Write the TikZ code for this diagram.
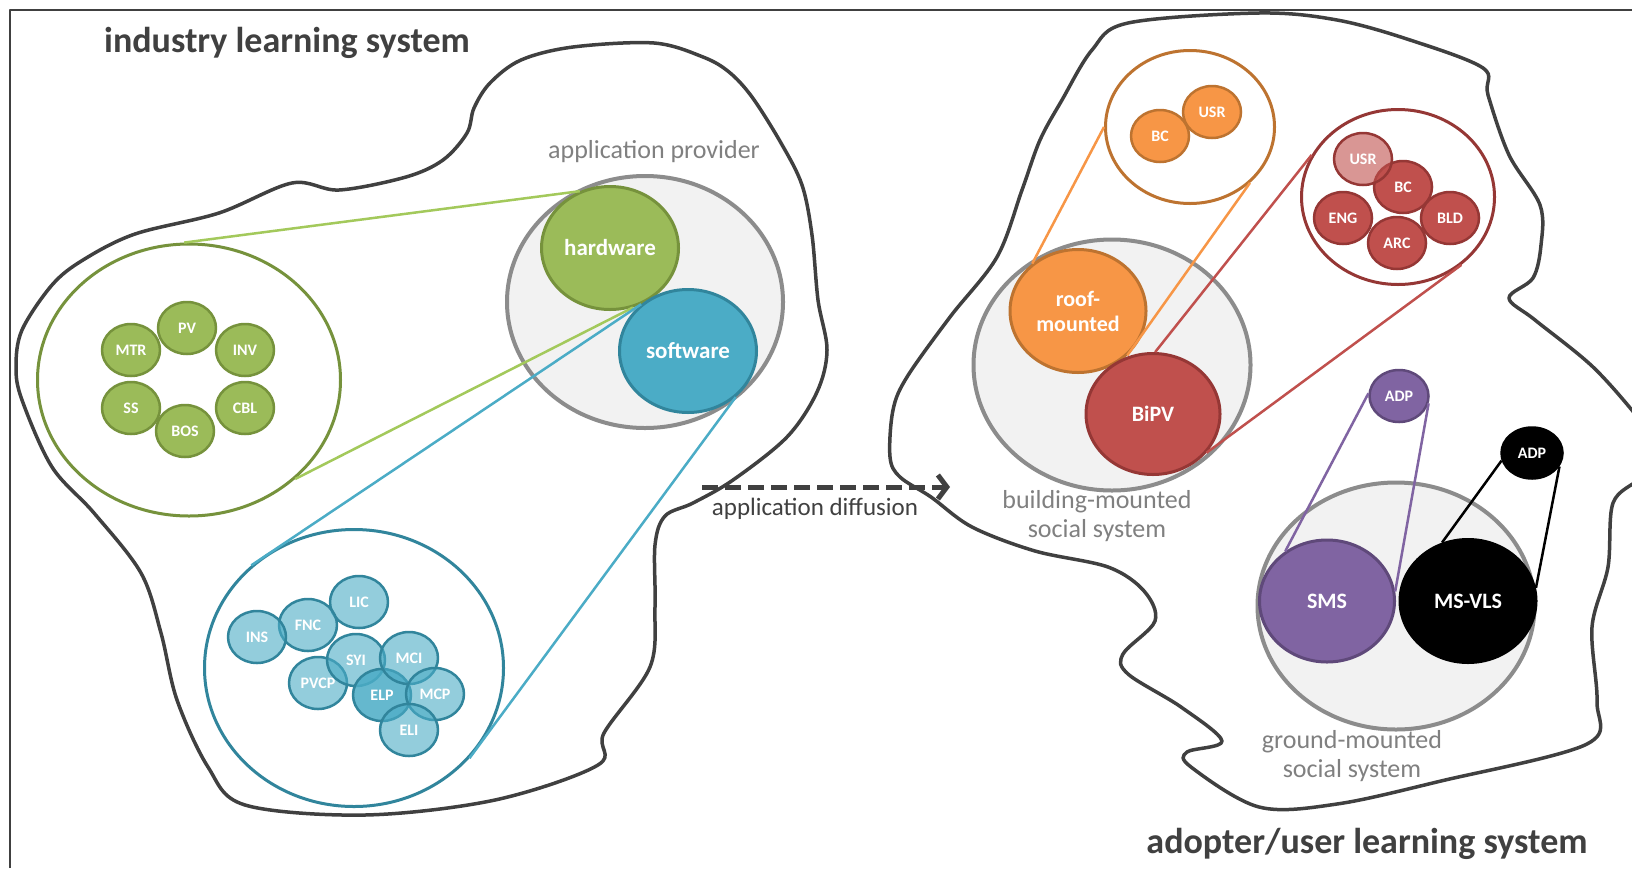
\documentclass[tikz,border=0pt]{standalone}
\usepackage{fontspec}
\setmainfont{Carlito}
\usetikzlibrary{shapes.geometric,arrows.meta}
\definecolor{grnfill}{HTML}{9BBB59}
\definecolor{grndraw}{HTML}{76923C}
\definecolor{grnlink}{HTML}{A3C95B}
\definecolor{bluefill}{HTML}{4BACC6}
\definecolor{bluedraw}{HTML}{31859C}
\definecolor{orgfill}{HTML}{F79646}
\definecolor{orgdraw}{HTML}{BD7330}
\definecolor{redfill}{HTML}{C0504D}
\definecolor{reddraw}{HTML}{953735}
\definecolor{purfill}{HTML}{8064A2}
\definecolor{purdraw}{HTML}{5F497A}
\definecolor{appfill}{HTML}{F2F2F2}
\definecolor{appdraw}{HTML}{8C8C8C}
\definecolor{ink}{HTML}{404040}
\definecolor{lbl}{HTML}{808080}
\begin{document}
\begin{tikzpicture}[x=1pt, y=-1pt, line join=round,
    sys/.style={ellipse, draw=appdraw, fill=appfill, line width=4pt, inner sep=0pt},
    grp/.style={ellipse, line width=3pt, inner sep=0pt},
    part/.style={ellipse, line width=3pt, inner sep=0pt, text=white, align=center, font=\bfseries\fontsize{22}{25}\selectfont},
    item/.style={ellipse, line width=2.5pt, inner sep=0pt, minimum width=58pt, minimum height=52pt, text=white, font=\bfseries\fontsize{16}{19}\selectfont},
    grnitem/.style={item, fill=grnfill, draw=grndraw},
    bluitem/.style={item, fill=bluefill, fill opacity=0.6, text opacity=1, draw=bluedraw},
    orgitem/.style={item, fill=orgfill, draw=orgdraw},
    reditem/.style={item, fill=redfill, draw=reddraw},
    note/.style={text=lbl, align=center, font=\fontsize{26}{29}\selectfont},
    heading/.style={text=ink, font=\bfseries\fontsize{36}{40}\selectfont},
    link/.style={line width=2.5pt},
    blob/.style={draw=ink, line width=3.5pt},
    diffuse/.style={draw=ink, line width=5pt, dash pattern=on 16pt off 7pt, -{Straight Barb[length=9pt,width=24pt]}}]
        \useasboundingbox (0,0) rectangle (1632,868);
        \fill[white] (0,0) rectangle (1632,868);
        \draw[ink, line width=2pt] (10,868) -- (10,10) -- (1632,10);

        \draw[blob] plot[smooth cycle, tension=0.55] coordinates {(654,43) (703,57) (729,72) (752,97) (781,143) (802,185) (812,235) (818,300) (827,350) (817,392) (787,437) (733,480) (693,503) (665,516) (655,545) (655,607) (650,667) (604,733) (598,765) (495,800) (365,815) (245,805) (208,767) (177,700) (161,633) (141,573) (94,513) (52,467) (22,400) (16,367) (22,330) (52,285) (83,260) (135,234) (219,213) (292,183) (339,190) (406,177) (443,160) (467,133) (474,108) (490,83) (521,60) (573,47)};
        \draw[blob] plot[smooth cycle, tension=0.55] coordinates {(1128,23) (1259,13) (1337,20) (1410,40) (1483,68) (1488,95) (1509,155) (1540,205) (1541,245) (1533,278) (1509,298) (1535,320) (1593,367) (1640,420) (1660,450) (1640,478) (1613,503) (1608,567) (1592,627) (1597,701) (1587,744) (1441,781) (1337,804) (1259,807) (1191,767) (1187,752) (1222,741) (1181,707) (1128,674) (1123,654) (1155,621) (1144,591) (1108,567) (1035,551) (972,527) (931,497) (900,477) (890,457) (893,410) (907,377) (950,317) (997,257) (1022,190) (1040,140) (1062,100) (1092,50)};

        \node[heading] (ils) at (287,43) {industry learning system};
        \node[heading] (uls) at (1367,844) {adopter/user learning system};

        \node[grp, draw=grndraw, minimum width=303pt, minimum height=272pt] (grn) at (189,380) {};
        \node[grnitem] (pv) at (187,328) {PV};
        \node[grnitem] (mtr) at (131,350) {MTR};
        \node[grnitem] (inv) at (245,350) {INV};
        \node[grnitem] (ss) at (131,408) {SS};
        \node[grnitem] (cbl) at (245,408) {CBL};
        \node[grnitem] (bos) at (185,431) {BOS};

        \node[grp, draw=bluedraw, minimum width=299pt, minimum height=277pt] (blu) at (354,668) {};
        \node[bluitem] (lic) at (359,602) {LIC};
        \node[bluitem] (fnc) at (308,625) {FNC};
        \node[bluitem] (ins) at (257,637) {INS};
        \node[bluitem] (pvcp) at (318,683) {PVCP};
        \node[bluitem] (syi) at (356,660) {SYI};
        \node[bluitem, fill opacity=0.85] (elp) at (382,695) {ELP};
        \node[bluitem] (mci) at (409,658) {MCI};
        \node[bluitem] (mcp) at (435,694) {MCP};
        \node[bluitem] (eli) at (409,730) {ELI};

        \node[sys, minimum width=276pt, minimum height=252pt] (app) at (645,302) {};
        \node[note] (appl) at (654,152) {application provider};
        \node[part, fill=grnfill, draw=grndraw, minimum width=137pt, minimum height=123pt, font=\bfseries\fontsize{23}{26}\selectfont] (hw) at (610,248) {hardware};
        \node[part, fill=bluefill, draw=bluedraw, minimum width=137pt, minimum height=123pt, font=\bfseries\fontsize{23}{26}\selectfont] (sw) at (688,351) {software};

        \coordinate (d0) at (702,487);
        \coordinate (d1) at (950,487);
        \draw[diffuse] (d0) -- (d1);
        \node[text=ink, font=\fontsize{25}{28}\selectfont] (difl) at (815,509) {application diffusion};

        \node[sys, minimum width=277pt, minimum height=251pt] (bld) at (1112,365) {};
        \node[note] (bldl) at (1097,516) {building-mounted\\social system};
        \node[part, fill=orgfill, draw=orgdraw, minimum width=136pt, minimum height=123pt] (roof) at (1078,311) {roof-\\mounted};
        \node[part, fill=redfill, draw=reddraw, minimum width=134pt, minimum height=121pt] (bipv) at (1153,414) {BiPV};

        \node[grp, draw=orgdraw, minimum width=169pt, minimum height=153pt] (org) at (1190,127) {};
        \node[orgitem] (obc) at (1160,136) {BC};
        \node[orgitem] (ousr) at (1212,112) {USR};

        \node[grp, draw=reddraw, minimum width=193pt, minimum height=175pt] (red) at (1398,197) {};
        \node[reditem] (rbc) at (1403,187) {BC};
        \node[reditem, fill opacity=0.6, text opacity=1] (rusr) at (1363,159) {USR};
        \node[reditem] (eng) at (1343,218) {ENG};
        \node[reditem] (bldr) at (1450,218) {BLD};
        \node[reditem] (arc) at (1397,243) {ARC};

        \node[sys, minimum width=277pt, minimum height=247pt] (gnd) at (1396,606) {};
        \node[note] (gndl) at (1352,756) {ground-mounted\\social system};
        \node[part, fill=purfill, draw=purdraw, minimum width=135pt, minimum height=122pt] (sms) at (1327,601) {SMS};
        \node[part, fill=black, draw=black, minimum width=136pt, minimum height=123pt] (msvls) at (1468,601) {MS-VLS};
        \node[item, fill=purfill, draw=purdraw, minimum width=59pt, minimum height=52pt] (padp) at (1399,396) {ADP};
        \node[item, fill=black, draw=black, minimum width=61pt, minimum height=51pt] (badp) at (1532,453) {ADP};

        \path (grn.92) edge[link, draw=grnlink] (hw.118)
        (grn.-43) edge[link, draw=grnlink] (hw.-69)
        (blu.135) edge[link, draw=bluefill] (sw.135)
        (blu.-38) edge[link, draw=bluefill] (sw.-44)
        (org.180) edge[link, draw=orgfill] (roof.134)
        (org.-43) edge[link, draw=orgfill] (roof.-42)
        (red.154) edge[link, draw=redfill] (bipv.88)
        (red.-47) edge[link, draw=redfill] (bipv.-36)
        (padp.175) edge[link, draw=purfill] (sms.130)
        (padp.-14) edge[link, draw=purfill] (sms.8)
        (badp.194) edge[link, draw=black] (msvls.114)
        (badp.-26) edge[link, draw=black] (msvls.11);
    \end{tikzpicture}
\end{document}
